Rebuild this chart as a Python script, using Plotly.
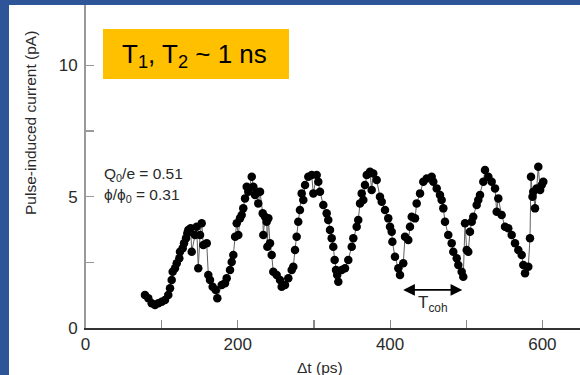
import plotly.graph_objects as go

# Delay (ps) and pulse-induced current (pA)
delay_ps = [78.1, 82.5, 86.9, 91.3, 95.6, 100.1, 104.4, 108.7, 111.0, 113.2,
            114.5, 117.5, 119.8, 123.2, 124.1, 127.6, 129.4, 132.0, 133.7, 135.0,
            138.1, 139.5, 143.8, 146.0, 148.1, 150.4, 152.6, 154.7, 159.2, 161.3,
            163.5, 167.0, 171.0, 173.1, 178.9, 183.2, 185.4, 189.8, 192.0, 194.1,
            196.5, 198.6, 200.7, 202.9, 205.1, 207.2, 209.5, 211.7, 213.8, 218.3,
            220.4, 222.6, 224.8, 226.9, 229.2, 232.7, 233.5, 235.7, 237.9, 238.8,
            240.1, 242.3, 244.5, 246.6, 251.1, 255.4, 257.6, 262.0, 266.3, 270.8,
            272.9, 275.1, 277.3, 279.4, 281.6, 283.9, 286.0, 288.3, 292.6, 297.0,
            299.2, 303.6, 305.7, 307.9, 312.3, 316.7, 318.8, 321.1, 323.3, 325.4,
            327.2, 329.0, 330.5, 332.0, 336.4, 340.8, 345.1, 349.6, 351.7, 356.1,
            358.2, 360.5, 362.7, 364.8, 367.0, 369.3, 373.6, 375.8, 377.9, 382.4,
            386.7, 389.0, 393.3, 397.6, 399.9, 402.1, 403.0, 406.4, 410.8, 413.0,
            417.3, 419.6, 423.9, 426.1, 428.4, 432.7, 434.9, 439.3, 443.6, 448.1,
            454.6, 456.7, 461.2, 465.5, 467.7, 469.9, 472.1, 476.4, 480.9, 483.0,
            487.5, 489.6, 494.0, 496.1, 498.4, 500.6, 502.7, 504.9, 507.2, 509.2,
            513.7, 515.8, 518.1, 522.4, 524.6, 529.0, 533.4, 537.8, 540.0, 542.1,
            546.5, 550.9, 555.2, 559.7, 564.0, 568.4, 572.8, 574.9, 577.2, 581.5,
            583.7, 585.0, 587.0, 588.0, 590.3, 592.5, 594.6, 597.0, 599.1, 601.2]

current_pA = [1.27, 1.14, 0.95, 0.89, 0.95, 1.01, 1.08, 1.27, 1.52, 1.84,
              2.15, 2.28, 2.47, 2.66, 2.91, 3.04, 3.23, 3.42, 3.61, 3.74,
              3.80, 2.91, 3.55, 3.86, 2.28, 3.55, 3.99, 3.17, 3.23, 2.03,
              1.84, 1.58, 1.46, 1.14, 1.65, 1.71, 1.90, 2.22, 2.52, 2.79,
              3.48, 3.99, 3.55, 4.18, 4.31, 4.56, 4.94, 5.38, 5.19, 5.76,
              5.38, 5.07, 5.19, 4.75, 5.19, 4.37, 3.55, 4.24, 4.05, 3.10,
              4.18, 3.23, 2.79, 2.15, 2.03, 1.84, 1.58, 1.65, 1.90, 2.22,
              2.34, 2.98, 3.48, 4.05, 4.50, 5.13, 4.88, 5.45, 5.76, 5.83,
              5.13, 5.83, 5.57, 5.19, 4.69, 4.37, 4.12, 3.74, 3.42, 3.10,
              2.60, 2.22, 2.03, 1.77, 2.22, 2.28, 2.60, 3.10, 3.42, 3.86,
              4.12, 4.75, 5.13, 4.88, 5.45, 5.83, 5.95, 5.26, 5.89, 5.64,
              5.00, 4.81, 4.50, 4.18, 3.86, 3.67, 3.29, 2.72, 2.28, 2.03,
              2.47, 3.48, 3.36, 3.86, 4.24, 4.18, 4.75, 5.13, 5.57, 5.70,
              5.76, 5.57, 5.32, 5.07, 4.88, 4.56, 4.05, 3.55, 3.23, 2.91,
              2.66, 2.41, 2.15, 1.96, 3.99, 2.98, 2.91, 3.67, 4.05, 4.24,
              4.69, 4.88, 5.07, 5.57, 6.02, 5.76, 5.57, 5.32, 4.43, 4.94,
              4.31, 3.86, 3.80, 3.55, 3.23, 2.98, 2.79, 2.41, 2.09, 2.34,
              3.42, 5.76, 5.00, 5.19, 4.56, 5.32, 6.14, 5.26, 5.45, 5.57]

x_tick_vals = [0, 100, 200, 300, 400, 500, 600]
x_tick_text = ["0", "", "200", "", "400", "", "600"]
y_tick_vals = [0, 2.5, 5, 7.5, 10]
y_tick_text = ["0", "", "5", "", "10"]

W, H = 580, 375
PX0, PXU = 85.5, 0.7615      # axis origin / px per ps (layout)
PY0, PYU = 328.3, 26.3
x_max = (W - PX0) / PXU
y_max = PY0 / PYU

FONT = "Liberation Sans, Arial, sans-serif"
TXT = "#2a2a2a"
BLUE = "#2D5597"

fig = go.Figure()
fig.add_trace(go.Scatter(
    x=delay_ps, y=current_pA, mode="lines+markers",
    line=dict(color="#606060", width=1),
    marker=dict(color="black", size=8.5, line=dict(width=0)),
    showlegend=False, cliponaxis=False, hoverinfo="skip"))

fig.update_layout(
    template="none",
    width=W, height=H, margin=dict(l=0, r=0, t=0, b=0, pad=0, autoexpand=False),
    paper_bgcolor="white", plot_bgcolor="white",
    font=dict(family=FONT, color=TXT, size=15),
    xaxis=dict(domain=[PX0 / W, 1], range=[0, x_max], showgrid=False, zeroline=False,
               automargin=False,
               showline=True, linecolor="#333333", linewidth=1.5,
               ticks="inside", ticklen=8, tickcolor="#888888", tickwidth=1.2,
               tickvals=x_tick_vals, ticktext=x_tick_text,
               tickfont=dict(size=17, color=TXT)),
    yaxis=dict(domain=[(H - PY0) / H, 1], range=[0, y_max], showgrid=False, zeroline=False,
               automargin=False,
               showline=True, linecolor="#999999", linewidth=1.5,
               ticks="inside", ticklen=8, tickcolor="#999999", tickwidth=1.2,
               tickvals=y_tick_vals, ticktext=y_tick_text,
               tickfont=dict(size=17, color=TXT), ticklabelstandoff=3),
)

def px(xp):
    return xp / W

def py(yp):
    return 1 - yp / H

shapes = [
    dict(type="rect", xref="paper", yref="paper", x0=0, x1=px(9), y0=0, y1=1,
         fillcolor=BLUE, line=dict(width=0), layer="above"),
    dict(type="rect", xref="paper", yref="paper", x0=0, x1=1, y0=py(5), y1=1,
         fillcolor=BLUE, line=dict(width=0), layer="above"),
    dict(type="rect", xref="paper", yref="paper", x0=px(103), x1=px(289), y0=py(79), y1=py(29),
         fillcolor="#FFC000", line=dict(width=0), layer="above"),
]
fig.update_layout(shapes=shapes)

ann = [
    dict(text="T<sub>1</sub>, T<sub>2</sub> ~ 1 ns", xref="paper", yref="paper",
         x=px(194), y=py(55), showarrow=False, font=dict(size=26, color="black"),
         xanchor="center", yanchor="middle"),
    dict(text="Q<sub>0</sub>/e = 0.51", xref="paper", yref="paper", x=px(102), y=py(174),
         showarrow=False, xanchor="left", yanchor="middle", font=dict(size=15.5, color=TXT)),
    dict(text="\u03d5/\u03d5<sub>0</sub> = 0.31", xref="paper", yref="paper", x=px(102), y=py(196),
         showarrow=False, xanchor="left", yanchor="middle", font=dict(size=15.5, color=TXT)),
    dict(text="Pulse-induced current (pA)", xref="paper", yref="paper", x=px(30), y=py(123),
         showarrow=False, textangle=-90, xanchor="center", yanchor="middle",
         font=dict(size=15.5, color=TXT)),
    dict(text="\u0394t (ps)", xref="paper", yref="paper", x=px(320), y=py(367),
         showarrow=False, xanchor="center", yanchor="middle", font=dict(size=15.5, color=TXT)),
    dict(text="", x=494.8, y=1.46, ax=415.2, ay=1.46, xref="x", yref="y", axref="x", ayref="y",
         showarrow=True, arrowhead=2, arrowside="end+start", arrowsize=1.3, arrowwidth=1.8,
         arrowcolor="black"),
    dict(text="T<sub>coh</sub>", x=456.7, y=0.92, xref="x", yref="y", showarrow=False,
         xanchor="center", yanchor="middle", font=dict(size=17, color=TXT)),
]
fig.update_layout(annotations=ann)

fig.write_html("out.html", config={"displayModeBar": False, "staticPlot": True},
               post_script="document.body.style.margin='0';document.body.style.overflow='hidden';")
